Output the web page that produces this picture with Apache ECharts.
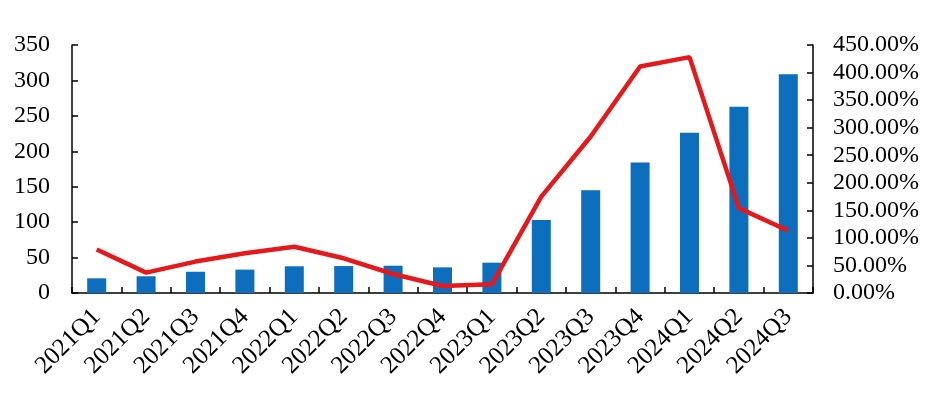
<!DOCTYPE html>
<html><head><meta charset="utf-8">
<script src="https://cdn.jsdelivr.net/npm/echarts@6/dist/echarts.min.js"></script>
<style>html,body{margin:0;padding:0;background:#fff}#c{width:950px;height:394px}</style>
</head><body><div id="c"></div>
<script>
const categories = ['2021Q1','2021Q2','2021Q3','2021Q4','2022Q1','2022Q2','2022Q3','2022Q4','2023Q1','2023Q2','2023Q3','2023Q4','2024Q1','2024Q2','2024Q3'];
const barValues = [20.7, 23.6, 30, 33, 37.7, 38, 38.5, 36.2, 42.8, 103, 145, 184, 226, 263, 308.6];
const growthValues = [79, 37, 57, 72, 84, 63, 34.5, 12.7, 15.8, 175, 284, 411, 428, 154, 113];
const leftTicks = {min: 0, max: 350, interval: 50};
const rightTicks = {min: 0, max: 450, interval: 50};

const font = 'Liberation Serif';
const axisLine = {show: true, lineStyle: {color: '#000', width: 1.5}};
const chart = echarts.init(document.getElementById('c'));
chart.setOption({
  animation: false,
  grid: {left: 72, right: 137, top: 45, bottom: 101},
  xAxis: {
    type: 'category', data: categories,
    axisLine: axisLine,
    axisTick: {show: true, inside: true, length: 6, lineStyle: {color: '#000', width: 1.5}},
    axisLabel: {rotate: 45, fontFamily: font, fontSize: 25, color: '#000', margin: 20, interval: 0},
    splitLine: {show: false}
  },
  yAxis: [{
    type: 'value', min: leftTicks.min, max: leftTicks.max, interval: leftTicks.interval,
    axisLine: axisLine,
    axisTick: {show: true, inside: true, length: 6, lineStyle: {color: '#000', width: 1.5}},
    axisLabel: {fontFamily: font, fontSize: 24, color: '#000', margin: 22},
    splitLine: {show: false}
  }, {
    type: 'value', min: rightTicks.min, max: rightTicks.max, interval: rightTicks.interval,
    position: 'right',
    axisLine: axisLine,
    axisTick: {show: true, inside: true, length: 6, lineStyle: {color: '#000', width: 1.5}},
    axisLabel: {fontFamily: font, fontSize: 24, color: '#000', margin: 20,
      formatter: v => v.toFixed(2) + '%'},
    splitLine: {show: false}
  }],
  series: [{
    type: 'bar', data: barValues, barWidth: 19, yAxisIndex: 0,
    itemStyle: {color: '#0e6ebe'}
  }, {
    type: 'line', data: growthValues, yAxisIndex: 1, symbol: 'none',
    lineStyle: {color: '#e3191c', width: 4.5}
  }]
});
</script></body></html>
